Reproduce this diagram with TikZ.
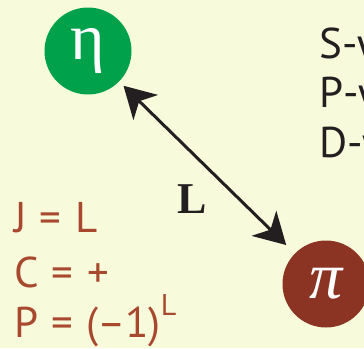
\documentclass[tikz,border=0pt]{standalone}
\usepackage{fontspec}
\setmainfont{Liberation Serif}
\newfontfamily\sansf{PT Sans}
\usetikzlibrary{arrows.meta}
\definecolor{bg}{RGB}{247,251,220}
\definecolor{etagreen}{RGB}{0,161,75}
\definecolor{pibrown}{RGB}{139,52,36}
\definecolor{rust}{RGB}{168,72,46}
\definecolor{ink}{RGB}{35,31,32}
\tikzset{
  particle/.style={circle, minimum size=87pt, inner sep=0pt, text=white},
  lefttext/.style={anchor=base west, inner sep=0pt, text=rust, font=\sansf\fontsize{43}{43}\selectfont},
  righttext/.style={anchor=base west, inner sep=0pt, text=ink, font=\sansf\fontsize{43}{43}\selectfont},
  link/.style={line width=3pt, draw=ink, {Stealth[length=31pt,width=35pt,inset=9pt]}-{Stealth[length=31pt,width=35pt,inset=9pt]}}
}
\newcommand{\eqsp}{\hspace{0.3em}=\hspace{0.32em}}
\begin{document}
\begin{tikzpicture}[x=1pt,y=-1pt]
\fill[bg] (0,0) rectangle (364,348);
\useasboundingbox (0,0) rectangle (364,348);
\clip (0,0) rectangle (364,348);
\node[particle, fill=etagreen, font=\fontsize{66}{66}\selectfont] (eta) at (88,51) {η};
\node[particle, fill=pibrown, font=\itshape\fontsize{66}{66}\selectfont] (pi) at (326,284) {π};
\draw[link, shorten <=6pt, shorten >=12pt] (eta) -- (pi);
\node[inner sep=0pt, text=ink, font=\bfseries\fontsize{44}{44}\selectfont] (L) at (192.5,199) {L};
\node[lefttext] (J) at (14,232) {J\eqsp L};
\node[lefttext] (C) at (14,287) {C\eqsp +};
\node[lefttext] (P) at (14,337) {P\eqsp (–1)\raisebox{0.5em}{\fontsize{30}{30}\selectfont L}};
\node[righttext] (S) at (319,58) {S-w};
\node[righttext] (Pw) at (319,107) {P-w};
\node[righttext] (D) at (319,157) {D-w};
\end{tikzpicture}
\end{document}
